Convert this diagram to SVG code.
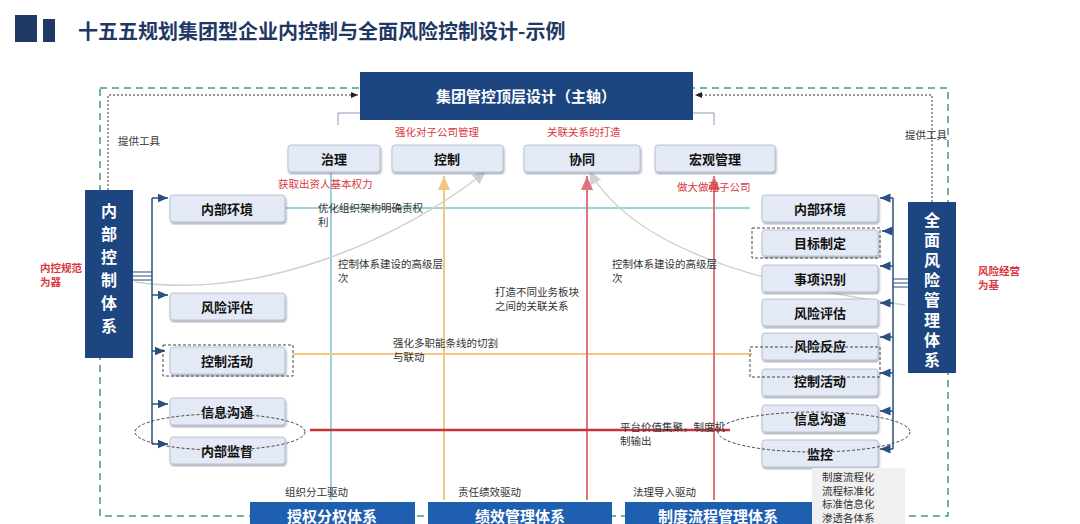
<svg xmlns="http://www.w3.org/2000/svg" width="1080" height="524" viewBox="0 0 1080 524">
<defs>
<style>
text{font-family:"Noto Sans CJK SC","Noto Sans",sans-serif}
.sb{fill:#e3e9f5;stroke:#b9c3d6;stroke-width:1;filter:url(#sh)}
.st{font-size:13px;font-weight:bold;fill:#111;text-anchor:middle}
.lb{font-size:10.5px;fill:#333}
.rd{font-size:10.5px;fill:#d9363e}
.db{fill:#1d4680}
.wt{fill:#fff;font-weight:bold;text-anchor:middle}
.dash{fill:none;stroke:#444;stroke-width:1;stroke-dasharray:3 2}
</style>
<filter id="sh"><feDropShadow dx="1" dy="2" stdDeviation="1" flood-color="#7a8090" flood-opacity="0.6"/></filter>
<marker id="ab" markerWidth="8" markerHeight="8" refX="7" refY="4" orient="auto"><path d="M0,1 L7,4 L0,7z" fill="#2b4f80"/></marker>
<marker id="ak" markerWidth="8" markerHeight="8" refX="7" refY="4" orient="auto"><path d="M0,1 L7,4 L0,7z" fill="#222"/></marker>
<marker id="ao" markerWidth="8" markerHeight="8" refX="7" refY="4" orient="auto"><path d="M0,1 L7,4 L0,7z" fill="#f5c77e"/></marker>
<marker id="ar" markerWidth="8" markerHeight="8" refX="7" refY="4" orient="auto"><path d="M0,1 L7,4 L0,7z" fill="#e0737a"/></marker>
<marker id="ag" markerWidth="10" markerHeight="10" refX="8" refY="5" orient="auto"><path d="M0,1 L9,5 L0,9z" fill="#d0d0d0"/></marker>
</defs>
<rect width="1080" height="524" fill="#fff"/>
<g id="title">
<rect x="15" y="15" width="22" height="27" fill="#1f3864"/>
<rect x="43" y="19" width="12" height="23" fill="#1f3864"/>
<text x="78" y="39" font-size="20" font-weight="bold" fill="#1f3864">十五五规划集团型企业内控制与全面风险控制设计-示例</text>
</g>
<g id="connectors">
<rect x="100" y="88" width="848" height="428" fill="none" stroke="#4a9a7a" stroke-width="1.5" stroke-dasharray="7 5"/>
<path d="M108,190 V95 H358" fill="none" stroke="#333" stroke-dasharray="2 2" marker-end="url(#ak)"/>
<path d="M932,202 V95 H695" fill="none" stroke="#333" stroke-dasharray="2 2" marker-end="url(#ak)"/>
<path d="M338,125 V113 H714 V125" fill="none" stroke="#8a9ab5"/>
<line x1="331" y1="172" x2="331" y2="500" stroke="#9fd0e0" stroke-width="2"/>
<line x1="285" y1="208" x2="750" y2="208" stroke="#9fd0e0" stroke-width="2"/>
<line x1="444" y1="500" x2="444" y2="176" stroke="#f5c77e" stroke-width="2" marker-end="url(#ao)"/>
<line x1="293" y1="354" x2="752" y2="354" stroke="#f5c77e" stroke-width="2"/>
<line x1="587" y1="500" x2="587" y2="176" stroke="#e0737a" stroke-width="2" marker-end="url(#ar)"/>
<line x1="714" y1="500" x2="714" y2="176" stroke="#e0737a" stroke-width="2" marker-end="url(#ar)"/>
<line x1="310" y1="430" x2="730" y2="430" stroke="#c8323d" stroke-width="2.5"/>
<path d="M135,282 C260,300 400,240 485,172" fill="none" stroke="#d0d0d0" stroke-width="1.5" marker-end="url(#ag)"/>
<path d="M905,305 C800,290 640,260 590,172" fill="none" stroke="#d0d0d0" stroke-width="1.5" marker-end="url(#ag)"/>
<path d="M133,272 H152 M133,276 H152 M133,280 H152" stroke="#2b4f80"/>
<path d="M152,198 V444" stroke="#2b4f80" stroke-width="1.5"/>
<g stroke="#2b4f80" stroke-width="1.5" marker-end="url(#ab)">
<line x1="152" y1="198" x2="168" y2="198"/><line x1="152" y1="295" x2="168" y2="295"/><line x1="152" y1="351" x2="165" y2="351"/><line x1="152" y1="404" x2="168" y2="404"/><line x1="152" y1="444" x2="168" y2="444"/>
</g>
<path d="M893,198 V449" stroke="#2b4f80" stroke-width="1.5"/>
<path d="M893,279 H908 M893,283 H908 M893,287 H908" stroke="#2b4f80"/>
<g stroke="#2b4f80" stroke-width="1.5" marker-end="url(#ab)">
<line x1="893" y1="198" x2="880" y2="198"/><line x1="893" y1="231" x2="882" y2="231"/><line x1="893" y1="266" x2="880" y2="266"/><line x1="893" y1="303" x2="880" y2="303"/><line x1="893" y1="337" x2="880" y2="337"/><line x1="893" y1="373" x2="880" y2="373"/><line x1="893" y1="411" x2="880" y2="411"/><line x1="893" y1="449" x2="880" y2="449"/>
</g>
</g>
<g id="top"><rect x="360" y="72" width="333" height="48" class="db"/><text x="526" y="102" font-size="15" class="wt">集团管控顶层设计（主轴）</text></g>
<g id="labels">
<text x="395" y="136" class="rd">强化对子公司管理</text>
<text x="547" y="136" class="rd">关联关系的打造</text>
<text x="278" y="188" class="rd">获取出资人基本权力</text>
<text x="677" y="191" class="rd">做大做强子公司</text>
<text x="118" y="145" class="lb">提供工具</text>
<text x="905" y="139" class="lb">提供工具</text>
<text x="40" y="272" class="rd" font-weight="bold">内控规范</text><text x="40" y="286" class="rd" font-weight="bold">为器</text>
<text x="978" y="275" class="rd" font-weight="bold">风险经营</text><text x="978" y="289" class="rd" font-weight="bold">为基</text>
<text x="318" y="212" class="lb">优化组织架构明确责权</text><text x="318" y="226" class="lb">利</text>
<text x="338" y="268" class="lb">控制体系建设的高级层</text><text x="338" y="282" class="lb">次</text>
<text x="612" y="268" class="lb">控制体系建设的高级层</text><text x="612" y="282" class="lb">次</text>
<text x="495" y="296" class="lb">打造不同业务板块</text><text x="495" y="310" class="lb">之间的关联关系</text>
<text x="393" y="347" class="lb">强化多职能条线的切割</text><text x="393" y="361" class="lb">与联动</text>
<text x="620" y="431" class="lb">平台价值集聚，制度机</text><text x="620" y="445" class="lb">制输出</text>
<text x="285" y="496" class="lb">组织分工驱动</text>
<text x="458" y="496" class="lb">责任绩效驱动</text>
<text x="633" y="496" class="lb">法理导入驱动</text>
</g>
<g id="top-nodes">
<rect x="288" y="145" width="92" height="27" rx="3" class="sb"/><text x="334" y="164" class="st">治理</text>
<rect x="392" y="145" width="111" height="27" rx="3" class="sb"/><text x="447" y="164" class="st">控制</text>
<rect x="524" y="145" width="116" height="27" rx="3" class="sb"/><text x="582" y="164" class="st">协同</text>
<rect x="655" y="145" width="120" height="27" rx="3" class="sb"/><text x="715" y="164" class="st">宏观管理</text>
</g>
<g id="left-system"><rect x="85" y="190" width="48" height="168" class="db"/>
<text font-size="16" class="wt"><tspan x="109" y="217">内</tspan><tspan x="109" y="240">部</tspan><tspan x="109" y="263">控</tspan><tspan x="109" y="286">制</tspan><tspan x="109" y="309">体</tspan><tspan x="109" y="332">系</tspan></text></g>
<g id="right-system"><rect x="908" y="202" width="48" height="171" class="db"/>
<text font-size="16" class="wt"><tspan x="932" y="226">全</tspan><tspan x="932" y="246">面</tspan><tspan x="932" y="266">风</tspan><tspan x="932" y="286">险</tspan><tspan x="932" y="306">管</tspan><tspan x="932" y="326">理</tspan><tspan x="932" y="346">体</tspan><tspan x="932" y="366">系</tspan></text></g>
<g id="left-nodes">
<rect x="170" y="195" width="115" height="27" rx="3" class="sb"/><text x="227" y="214" class="st">内部环境</text>
<rect x="170" y="293" width="115" height="27" rx="3" class="sb"/><text x="227" y="312" class="st">风险评估</text>
<rect x="170" y="347" width="115" height="27" rx="3" class="sb"/><text x="227" y="366" class="st">控制活动</text>
<rect x="163" y="345" width="130" height="31" class="dash"/>
<rect x="170" y="398" width="115" height="27" rx="3" class="sb"/><text x="227" y="417" class="st">信息沟通</text>
<rect x="170" y="437" width="115" height="27" rx="3" class="sb"/><text x="227" y="456" class="st">内部监督</text>
<ellipse cx="220" cy="432" rx="85" ry="18" class="dash"/>
</g>
<g id="right-nodes">
<rect x="762" y="195" width="116" height="27" rx="3" class="sb"/><text x="820" y="214" class="st">内部环境</text>
<rect x="762" y="230" width="116" height="26" rx="3" class="sb"/><text x="820" y="248" class="st">目标制定</text>
<rect x="752" y="228" width="128" height="30" class="dash"/>
<rect x="762" y="265" width="116" height="27" rx="3" class="sb"/><text x="820" y="284" class="st">事项识别</text>
<rect x="762" y="299" width="116" height="27" rx="3" class="sb"/><text x="820" y="318" class="st">风险评估</text>
<rect x="762" y="333" width="116" height="27" rx="3" class="sb"/><text x="820" y="351" class="st">风险反应</text>
<rect x="762" y="369" width="116" height="27" rx="3" class="sb"/><text x="820" y="386" class="st">控制活动</text>
<rect x="750" y="347" width="130" height="30" class="dash"/>
<rect x="762" y="405" width="116" height="27" rx="3" class="sb"/><text x="820" y="424" class="st">信息沟通</text>
<rect x="762" y="440" width="116" height="27" rx="3" class="sb"/><text x="820" y="459" class="st">监控</text>
<ellipse cx="814" cy="432" rx="96" ry="20" class="dash"/>
</g>
<g id="bottom">
<rect x="250" y="502" width="165" height="30" fill="#1f5fb0"/><text x="332" y="522" font-size="15" class="wt">授权分权体系</text>
<rect x="428" y="502" width="184" height="30" fill="#1f5fb0"/><text x="520" y="522" font-size="15" class="wt">绩效管理体系</text>
<rect x="625" y="502" width="187" height="30" fill="#1f5fb0"/><text x="718" y="522" font-size="15" class="wt">制度流程管理体系</text>
<rect x="812" y="468" width="93" height="60" fill="#f0f0f0"/>
<text x="822" y="481" font-size="10.5" fill="#333">制度流程化</text><text x="822" y="494.5" font-size="10.5" fill="#333">流程标准化</text><text x="822" y="508" font-size="10.5" fill="#333">标准信息化</text><text x="822" y="521.5" font-size="10.5" fill="#333">渗透各体系</text>
</g>
</svg>
